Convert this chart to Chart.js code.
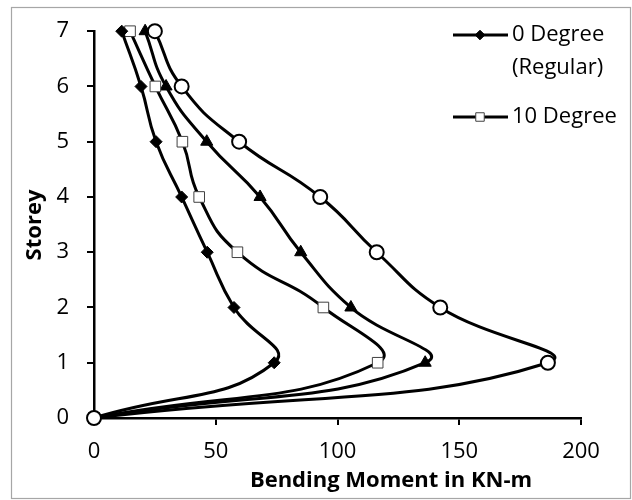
<!DOCTYPE html>
<html>
<head>
<meta charset="utf-8">
<script src="https://cdn.jsdelivr.net/npm/chart.js@4"></script>
<style>
  html, body { margin: 0; padding: 0; background: #fff; }
</style>
</head>
<body>
<canvas id="chart" width="632" height="500"></canvas>
<script>
// storey levels and bending moments (KN-m)
const storeys = [0, 1, 2, 3, 4, 5, 6, 7];
const deg0 = [0, 74, 57.5, 46.5, 36, 25.5, 19.3, 11.4];
const deg10 = [0, 116.5, 94.2, 58.9, 43.2, 36.3, 25.2, 14.8];
const deg20 = [0, 136, 105.5, 84.9, 68.2, 46.3, 29.6, 21];
const deg30 = [0, 186.4, 142.2, 116.1, 92.9, 59.6, 36, 25];
const seriesNames = ["0 Degree\n(Regular)", "10 Degree", "20 Degree", "30 Degree"];
const xTicks = [0, 50, 100, 150, 200];
const yTicks = [0, 1, 2, 3, 4, 5, 6, 7];
const xTitle = "Bending Moment in KN-m";
const yTitle = "Storey";

const FONT = "'Open Sans', 'Noto Sans', sans-serif";
Chart.defaults.font.family = FONT;
Chart.defaults.color = "#000";

function pts(values) {
    return values.map((v, i) => ({ x: v, y: storeys[i] }));
}

// frame, axis titles and the (partly visible) legend
const decor = {
    id: "decor",
    beforeDraw(chart) {
        const ctx = chart.ctx;
        ctx.save();
        ctx.fillStyle = "#fff";
        ctx.fillRect(0, 0, chart.width, chart.height);
        ctx.strokeStyle = "#a6a6a6";
        ctx.lineWidth = 1.2;
        ctx.strokeRect(11.5, 7.5, 619, 491);
        ctx.restore();
    },
    afterDraw(chart) {
        const ctx = chart.ctx;
        ctx.save();
        ctx.fillStyle = "#000";
        ctx.font = "bold 22px " + FONT;
        ctx.textAlign = "center";
        ctx.textBaseline = "alphabetic";
        ctx.fillText(xTitle, 391, 487);

        ctx.translate(41, 225);
        ctx.rotate(-Math.PI / 2);
        ctx.fillText(yTitle, 0, 0);
        ctx.restore();

        // legend: only the first two entries fit in the original
        ctx.save();
        ctx.font = "22px " + FONT;
        ctx.textAlign = "left";
        ctx.textBaseline = "middle";
        let y = 35;
        for (let i = 0; i < 2; i++) {
            const ds = chart.data.datasets[i];
            ctx.strokeStyle = ds.borderColor;
            ctx.lineWidth = ds.borderWidth;
            ctx.beginPath();
            ctx.moveTo(453, y);
            ctx.lineTo(508, y);
            ctx.stroke();
            ctx.fillStyle = ds.pointBackgroundColor;
            ctx.strokeStyle = ds.pointBorderColor;
            ctx.lineWidth = ds.pointBorderWidth;
            Chart.helpers.drawPoint(ctx, {
                pointStyle: ds.pointStyle,
                radius: ds.pointRadius * 0.8,
                rotation: 0,
                borderWidth: ds.pointBorderWidth
            }, 480, y);
            ctx.fillStyle = "#000";
            ds.label.split("\n").forEach((line, k) => {
                ctx.fillText(line, 512, y + k * 33);
            });
            y += ds.label.split("\n").length * 33 + 16;
        }
        ctx.restore();
    }
};

const ctx = document.getElementById("chart").getContext("2d");

const chart = new Chart(ctx, {
    type: "scatter",
    data: {
        datasets: [
            {
                label: seriesNames[0],
                data: pts(deg0),
                showLine: true,
                borderColor: "#000",
                borderWidth: 3,
                pointStyle: "rectRot",
                pointRadius: 6,
                pointBackgroundColor: "#000",
                pointBorderColor: "#000",
                pointBorderWidth: 1,
                tension: 0.5,
                clip: false
            },
            {
                label: seriesNames[1],
                data: pts(deg10),
                showLine: true,
                borderColor: "#000",
                borderWidth: 3,
                pointStyle: "rect",
                pointRadius: 7.5,
                pointBackgroundColor: "#fff",
                pointBorderColor: "#404040",
                pointBorderWidth: 1,
                tension: 0.5,
                clip: false
            },
            {
                label: seriesNames[2],
                data: pts(deg20),
                showLine: true,
                borderColor: "#000",
                borderWidth: 3,
                pointStyle: "triangle",
                pointRadius: 7,
                pointBackgroundColor: "#000",
                pointBorderColor: "#000",
                pointBorderWidth: 1,
                tension: 0.5,
                clip: false
            },
            {
                label: seriesNames[3],
                data: pts(deg30),
                showLine: true,
                borderColor: "#000",
                borderWidth: 3,
                pointStyle: "circle",
                pointRadius: 7,
                pointBackgroundColor: "#fff",
                pointBorderColor: "#000",
                pointBorderWidth: 2,
                tension: 0.5,
                clip: false,
                order: -1
            }
        ]
    },
    options: {
        responsive: false,
        animation: false,
        layout: {
            padding: { left: 12, top: 23, right: 51, bottom: 2 }
        },
        scales: {
            x: {
                type: "linear",
                min: xTicks[0],
                max: xTicks[xTicks.length - 1],
                afterBuildTicks: (s) => { s.ticks = xTicks.map(v => ({ value: v })); },
                afterFit: (s) => { s.height = 80; },
                ticks: { font: { size: 22 }, padding: 14, maxRotation: 0 },
                grid: { drawOnChartArea: false, drawTicks: true, tickLength: 7, color: "#000", lineWidth: 2 },
                border: { display: true, color: "#000", width: 2.5 }
            },
            y: {
                type: "linear",
                min: yTicks[0],
                max: yTicks[yTicks.length - 1],
                afterBuildTicks: (s) => { s.ticks = yTicks.map(v => ({ value: v })); },
                afterFit: (s) => { s.width = 82; },
                ticks: { font: { size: 22 }, padding: 18 },
                grid: { drawOnChartArea: false, drawTicks: true, tickLength: 7, color: "#000", lineWidth: 2 },
                border: { display: true, color: "#000", width: 2.5 }
            }
        },
        plugins: {
            legend: { display: false },
            tooltip: { enabled: false }
        }
    },
    plugins: [decor]
});
</script>
</body>
</html>
